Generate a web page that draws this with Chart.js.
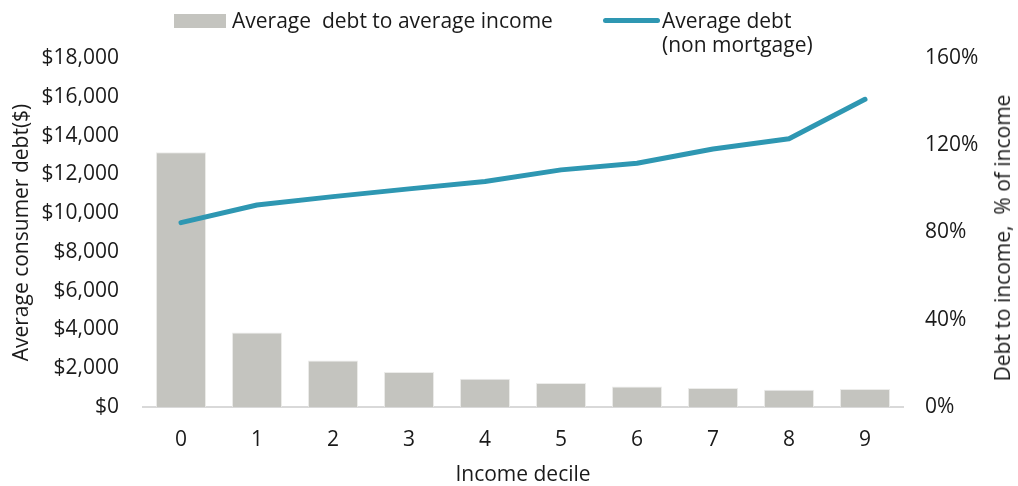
<!DOCTYPE html>
<html>
<head>
<meta charset="utf-8">
<script src="https://cdn.jsdelivr.net/npm/chart.js@4.4.1/dist/chart.umd.min.js"></script>
<style>
  body { margin: 0; background: #fff; font-family: "Open Sans", sans-serif; }
  #wrap { position: relative; width: 1018px; height: 486px; }
  .legend-item { position: absolute; font-size: 21px; line-height: 24px; color: #1a1a1a; white-space: pre; }
  .swatch-bar { position: absolute; left: 174px; top: 14px; width: 52px; height: 14px; background: #C4C4BF; }
  .swatch-line { position: absolute; left: 603px; top: 18px; width: 57px; height: 5px; border-radius: 3px; background: #2E97B2; }
  #rightTitle { position: absolute; left: 1002px; top: 238px; font-size: 21px; color: #1a1a1a;
                white-space: pre; transform: translate(-50%, -50%) rotate(-90deg); }
</style>
</head>
<body>
<div id="wrap">
  <canvas id="myChart" width="1018" height="486"></canvas>
  <div class="swatch-bar"></div>
  <div class="legend-item" style="left:232px; top:8px;">Average  debt to average income</div>
  <div class="swatch-line"></div>
  <div class="legend-item" style="left:662px; top:8px;">Average debt<br>(non mortgage)</div>
  <div id="rightTitle">Debt to income,  % of income</div>
</div>
<script>
// income deciles
var deciles = ["0", "1", "2", "3", "4", "5", "6", "7", "8", "9"];
// average debt to average income, % (right axis)
var debtToIncome = [116.8, 34.2, 21.3, 16.0, 13.0, 11.0, 9.4, 8.7, 7.9, 8.2];
// average non-mortgage debt, $ (left axis)
var avgDebt = [9510, 10420, 10850, 11250, 11630, 12230, 12570, 13310, 13840, 15870];
// tick settings
var debtTicks = { min: 0, max: 18000, step: 2000 };
var pctTicks = { min: 0, max: 160, step: 40 };

var tickFont = { family: "Open Sans", size: 21 };
var textColor = "#1a1a1a";

new Chart(document.getElementById("myChart"), {
    type: "bar",
    data: {
        labels: deciles,
        datasets: [{
            type: "line",
            label: "Average debt (non mortgage)",
            data: avgDebt,
            yAxisID: "y",
            borderColor: "#2E97B2",
            borderWidth: 5,
            borderCapStyle: "round",
            borderJoinStyle: "round",
            pointRadius: 0,
            tension: 0,
            order: 0
        }, {
            type: "bar",
            label: "Average  debt to average income",
            data: debtToIncome,
            yAxisID: "y1",
            backgroundColor: "#C4C4BF",
            borderColor: "#ECECEA",
            borderWidth: 1,
            categoryPercentage: 1,
            barPercentage: 0.66,
            order: 1
        }]
    },
    options: {
        responsive: false,
        animation: false,
        layout: { padding: { top: 58, left: 0, right: 0, bottom: 0 } },
        plugins: {
            legend: { display: false },
            tooltip: { enabled: false }
        },
        scales: {
            x: {
                grid: { display: false, drawTicks: false },
                border: { display: true, color: "#D9D9D9", width: 2 },
                ticks: { font: tickFont, color: textColor, padding: 20 },
                title: { display: true, text: "Income decile", font: tickFont, color: textColor, padding: { top: 0, bottom: -1.5 } },
                afterFit: function (scale) { scale.height = 79; }
            },
            y: {
                position: "left",
                min: debtTicks.min,
                max: debtTicks.max,
                grid: { display: false, drawTicks: false },
                border: { display: false },
                ticks: {
                    stepSize: debtTicks.step,
                    font: tickFont,
                    color: textColor,
                    padding: 24,
                    callback: function (value) {
                        return "$" + value.toLocaleString("en-US");
                    }
                },
                title: { display: true, text: "Average consumer debt($)", font: tickFont, color: textColor, padding: { top: 9, bottom: 0 } },
                afterFit: function (scale) { scale.width = 143; }
            },
            y1: {
                position: "right",
                min: pctTicks.min,
                max: pctTicks.max,
                grid: { display: false, drawTicks: false },
                border: { display: false },
                ticks: {
                    stepSize: pctTicks.step,
                    font: tickFont,
                    color: textColor,
                    padding: 22,
                    callback: function (value) {
                        return value + "%";
                    }
                },
                afterFit: function (scale) { scale.width = 115; }
            }
        }
    }
});
</script>
</body>
</html>
